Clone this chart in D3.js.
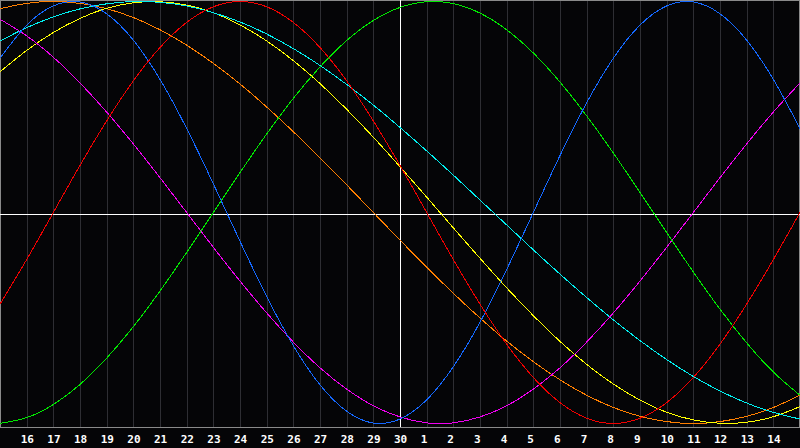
<!DOCTYPE html>
<html>
<head>
<meta charset="utf-8">
<script src="https://cdn.jsdelivr.net/npm/d3@7"></script>
<style>
html,body{margin:0;padding:0;background:#050507;}
svg{display:block;}
</style>
</head>
<body>
<svg id="chart" width="800" height="448"></svg>
<script>
// Day labels along the bottom (index 1..29), index 0 and 30 = day 15
const dayLabels = [16,17,18,19,20,21,22,23,24,25,26,27,28,29,30,1,2,3,4,5,6,7,8,9,10,11,12,13,14];
const todayIndex = 15; // day 30

// Series values at each day index 0..30 (range -1..1)
const physical = [0.731,0.888,0.979,0.998,0.942,0.817,0.631,0.398,0.136,-0.136,-0.398,-0.631,-0.817,-0.942,-0.998,-0.979,-0.888,-0.731,-0.520,-0.270,0,0.270,0.520,0.731,0.888,0.979,0.998,0.942,0.817,0.631,0.398];
const emotional = [-0.434,-0.223,0,0.223,0.434,0.624,0.782,0.901,0.975,1,0.975,0.901,0.782,0.624,0.434,0.223,0,-0.223,-0.434,-0.624,-0.782,-0.901,-0.975,-1,-0.975,-0.901,-0.782,-0.624,-0.434,-0.223,0];
const intellectual = [-0.999,-0.972,-0.910,-0.815,-0.690,-0.541,-0.372,-0.189,0,0.189,0.372,0.541,0.690,0.815,0.910,0.972,0.999,0.990,0.945,0.866,0.756,0.618,0.458,0.282,0.095,-0.095,-0.282,-0.458,-0.618,-0.756,-0.866];
const intuitive = [0.916,0.837,0.736,0.614,0.476,0.325,0.165,0,-0.165,-0.325,-0.476,-0.614,-0.736,-0.837,-0.916,-0.969,-0.997,-0.997,-0.969,-0.916,-0.837,-0.736,-0.614,-0.476,-0.325,-0.165,0,0.165,0.325,0.476,0.614];
const aesthetic = [0.667,0.768,0.853,0.920,0.968,0.994,0.999,0.983,0.947,0.889,0.813,0.720,0.611,0.489,0.357,0.217,0.073,-0.073,-0.217,-0.357,-0.489,-0.611,-0.720,-0.813,-0.889,-0.947,-0.983,-0.999,-0.994,-0.968,-0.920];
const awareness = [0.966,0.991,1,0.991,0.966,0.924,0.866,0.793,0.707,0.609,0.5,0.383,0.259,0.131,0,-0.131,-0.259,-0.383,-0.5,-0.609,-0.707,-0.793,-0.866,-0.924,-0.966,-0.991,-1,-0.991,-0.966,-0.924,-0.866];
const spiritual = [0.813,0.876,0.927,0.965,0.989,1.000,0.996,0.979,0.947,0.903,0.846,0.777,0.697,0.607,0.509,0.403,0.292,0.177,0.059,-0.059,-0.177,-0.292,-0.403,-0.509,-0.607,-0.697,-0.777,-0.846,-0.903,-0.947,-0.979];

const seriesList = [
  {name:"awareness", values:awareness, color:"#ff7f00"},
  {name:"aesthetic", values:aesthetic, color:"#ffff00"},
  {name:"spiritual", values:spiritual, color:"#00f0f0"},
  {name:"intuitive", values:intuitive, color:"#f000f0"},
  {name:"intellectual", values:intellectual, color:"#00e800"},
  {name:"physical", values:physical, color:"#1468ff"},
  {name:"emotional", values:emotional, color:"#f00000"}
];

const W = 800, plotBottom = 427;
const svg = d3.select("#chart");
svg.append("rect").attr("width",800).attr("height",448).attr("fill","#050507");

const x = d3.scaleLinear().domain([0,30]).range([0,W]);
const y = d3.scaleLinear().domain([-1,1]).range([423.5,1.5]);
const px = v => Math.round(v) + 0.5;

// vertical grid lines
svg.append("g").selectAll("line").data(d3.range(1,30)).join("line")
  .attr("x1", i => px(x(i))).attr("x2", i => px(x(i)))
  .attr("y1", 0).attr("y2", plotBottom)
  .attr("stroke", "#2e2e33").attr("stroke-width", 1)
  .attr("shape-rendering","crispEdges");

// frame (top, left, right) and bottom axis line
svg.append("rect").attr("x",0.5).attr("y",0.5).attr("width",W-1).attr("height",plotBottom)
  .attr("fill","none").attr("stroke","#8a8a8a").attr("shape-rendering","crispEdges");

// centre (zero) line and today marker
svg.append("line").attr("x1",0).attr("x2",W).attr("y1",214.5).attr("y2",214.5)
  .attr("stroke","#ffffff").attr("shape-rendering","crispEdges");
svg.append("line").attr("x1",px(x(todayIndex))).attr("x2",px(x(todayIndex)))
  .attr("y1",0).attr("y2",plotBottom)
  .attr("stroke","#ffffff").attr("shape-rendering","crispEdges");

// curves
const line = d3.line().x((d,i) => x(i)).y(d => y(d)).curve(d3.curveNatural);
svg.append("g").selectAll("path").data(seriesList).join("path")
  .attr("d", s => line(s.values))
  .attr("fill","none").attr("stroke", s => s.color).attr("stroke-width",1)
  .attr("shape-rendering","crispEdges");

// day labels
svg.append("g").selectAll("text").data(dayLabels).join("text")
  .attr("x", (d,i) => x(i+1) - 6)
  .attr("y", 443)
  .attr("fill","#ffffff")
  .attr("font-family","'DejaVu Sans Mono', monospace")
  .attr("font-weight","bold")
  .attr("font-size","11px")
  .text(d => d);
</script>
</body>
</html>
